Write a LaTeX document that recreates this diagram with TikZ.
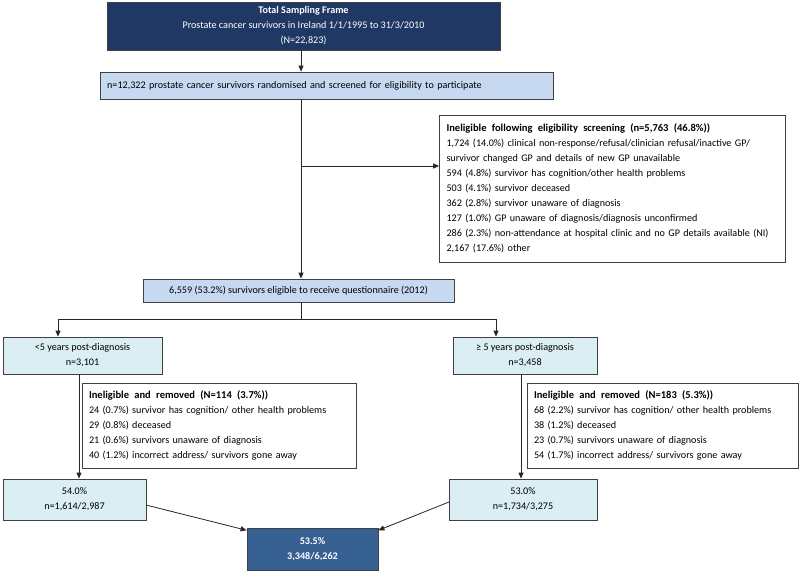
\documentclass[tikz,border=0pt]{standalone}
\usepackage{fontspec}
\setmainfont{Carlito}
\usetikzlibrary{arrows.meta}
\definecolor{navy}{HTML}{1F3864}
\definecolor{ltblue}{HTML}{C6D9F1}
\definecolor{palecyan}{HTML}{DAEEF3}
\definecolor{midblue}{HTML}{366092}
\definecolor{boxedge}{HTML}{404040}
\definecolor{lineclr}{HTML}{262626}
\newcommand\hdtext{\bfseries\fontsize{7.9}{11.3}\selectfont\spaceskip=0.5em plus 0.1em\relax}
\tikzset{
  box/.style={draw=boxedge, line width=0.6pt, rectangle},
  arr/.style={draw=lineclr, line width=0.6pt, -{Triangle[length=4.5pt,width=3.8pt]}},
  ln/.style={draw=lineclr, line width=0.6pt}
}
\begin{document}
\begin{tikzpicture}[x=0.75pt,y=-0.75pt,
  every node/.style={font=\fontsize{7.6}{11.3}\selectfont, inner sep=0pt}]
\useasboundingbox (0,0) rectangle (800,571);

\node[box, fill=navy, text=white, minimum width=294.75pt, minimum height=36pt, align=center] (top) at (303.5,26)
  {\textbf{Total Sampling Frame}\\Prostate cancer survivors in Ireland 1/1/1995 to 31/3/2010\\(N=22,823)};
\node[box, fill=ltblue, minimum width=339.75pt, minimum height=20.25pt, text width=329pt, align=left] (box2) at (326.5,85.5)
  {n=12,322 prostate cancer survivors randomised and screened for eligibility to participate};
\node[box, fill=white, minimum width=259.5pt, minimum height=110.25pt, text width=249pt, align=left] (inel) at (612.5,188.5)
  {{\hdtext Ineligible following eligibility screening (n=5,763 (46.8\%))}\\
   1,724 (14.0\%) clinical non-response/refusal/clinician refusal/inactive GP/\\
   survivor changed GP and details of new GP unavailable\\
   594 (4.8\%) survivor has cognition/other health problems\\
   503 (4.1\%) survivor deceased\\
   362 (2.8\%) survivor unaware of diagnosis\\
   127 (1.0\%) GP unaware of diagnosis/diagnosis unconfirmed\\
   286 (2.3\%) non-attendance at hospital clinic and no GP details available (NI)\\
   2,167 (17.6\%) other};
\node[box, fill=ltblue, minimum width=233.25pt, minimum height=17.25pt, align=center] (box3) at (298.5,290.5)
  {6,559 (53.2\%) survivors eligible to receive questionnaire (2012)};
\node[box, fill=palecyan, minimum width=119.25pt, minimum height=27.75pt, align=center] (lt5) at (82.5,355.5)
  {<5 years post-diagnosis\\n=3,101};
\node[box, fill=palecyan, minimum width=108pt, minimum height=27.75pt, align=center] (ge5) at (525,355.5)
  {≥ 5 years post-diagnosis\\n=3,458};
\node[box, fill=white, minimum width=205.5pt, minimum height=63.75pt, text width=195pt, align=left] (inelL) at (219,425.5)
  {{\hdtext Ineligible and removed (N=114 (3.7\%))}\\
   24 (0.7\%) survivor has cognition/ other health problems\\
   29 (0.8\%) deceased\\
   21 (0.6\%) survivors unaware of diagnosis\\
   40 (1.2\%) incorrect address/ survivors gone away};
\node[box, fill=white, minimum width=203.25pt, minimum height=63.75pt, text width=192.75pt, align=left] (inelR) at (662.5,425.5)
  {{\hdtext Ineligible and removed (N=183 (5.3\%))}\\
   68 (2.2\%) survivor has cognition/ other health problems\\
   38 (1.2\%) deceased\\
   23 (0.7\%) survivors unaware of diagnosis\\
   54 (1.7\%) incorrect address/ survivors gone away};
\node[box, fill=palecyan, minimum width=107.25pt, minimum height=30.75pt, align=center] (p54) at (74.5,499.5)
  {54.0\%\\n=1,614/2,987};
\node[box, fill=palecyan, minimum width=111pt, minimum height=30.75pt, align=center] (p53) at (523,499.5)
  {53.0\%\\n=1,734/3,275};
\node[box, fill=midblue, text=white, minimum width=98.25pt, minimum height=31.5pt, align=center, font=\fontsize{7.6}{11.3}\selectfont\bfseries] (tot) at (312.5,549)
  {53.5\%\\3,348/6,262};

\coordinate (cx) at (301,0);
\coordinate (br) at (301,166);
\coordinate (sp) at (301,319);
\coordinate (la) at (58,319);
\coordinate (ra) at (496,319);
\coordinate (lb) at (79,0);
\coordinate (rb) at (521,0);
\coordinate (lst) at (146,505);
\coordinate (rst) at (449,502);

\draw[arr] (top.south -| cx) -- (box2.north -| cx);
\draw[arr] (box2.south -| cx) -- (box3.north -| cx);
\draw[arr] (br) -- (br -| inel.west);
\draw[ln] (box3.south -| cx) -- (sp);
\draw[ln] (la) -- (ra);
\draw[arr] (la) -- (la |- lt5.north);
\draw[arr] (ra) -- (ra |- ge5.north);
\draw[arr] (lt5.south -| lb) -- (p54.north -| lb);
\draw[arr] (ge5.south -| rb) -- (p53.north -| rb);
\draw[arr] (lst) -- ([yshift=-2pt]tot.north west);
\draw[arr] (rst) -- ([yshift=-2pt]tot.north east);
\end{tikzpicture}
\end{document}
